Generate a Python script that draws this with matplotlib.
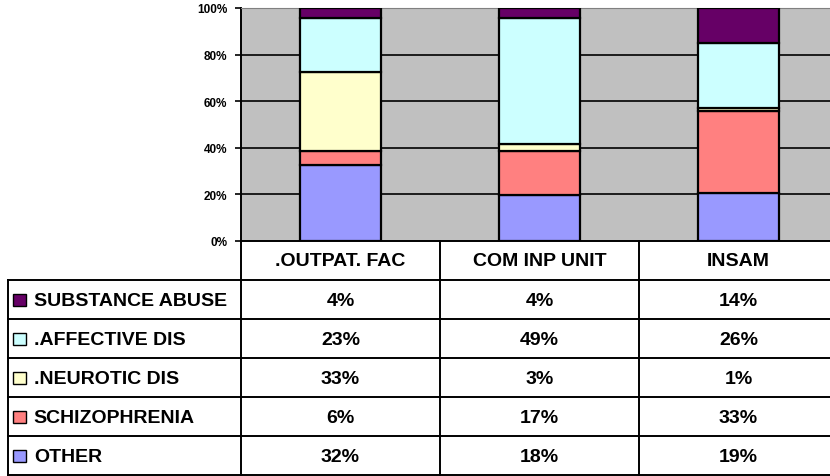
import matplotlib
matplotlib.use("Agg")
import matplotlib.pyplot as plt
from matplotlib.patches import Rectangle
import numpy as np

plt.rcParams['font.family'] = ['Liberation Sans', 'DejaVu Sans']
plt.rcParams['font.weight'] = 'bold'

# data (percent of each facility)
facilities = [".OUTPAT. FAC", "COM INP UNIT", "INSAM"]
diagnoses = ["OTHER", "SCHIZOPHRENIA", ".NEUROTIC DIS", ".AFFECTIVE DIS", "SUBSTANCE ABUSE"]
other = [32, 18, 19]
schizophrenia = [6, 17, 33]
neurotic = [33, 3, 1]
affective = [23, 49, 26]
substance = [4, 4, 14]
colors = ["#9999FF", "#FF8080", "#FFFFCC", "#CCFFFF", "#660066"]

series = np.array([other, schizophrenia, neurotic, affective, substance], dtype=float)
shares = series / series.sum(axis=0) * 100  # 100% stacked

W, H = 830, 477


def box(x0, y0, x1, y1):
    # pixel box (top-left origin) -> figure fraction rect
    return [x0 / W, 1 - y1 / H, (x1 - x0) / W, (y1 - y0) / H]


fig = plt.figure(figsize=(W / 100, H / 100), dpi=100)

# chart area
ax = fig.add_axes(box(241, 9, 838, 242))
ax.set_facecolor("#C0C0C0")
x = np.arange(len(facilities))
bottom = np.zeros(len(facilities))
for vals, col in zip(shares, colors):
    ax.bar(x, vals, bottom=bottom, width=0.41, color=col,
           edgecolor="black", linewidth=1.6, zorder=3)
    bottom += vals

ax.set_xlim(-0.5, 2.5)
ax.set_ylim(0, 100)
ax.set_yticks(range(0, 101, 20))
ax.set_yticklabels([f"{v}%" for v in range(0, 101, 20)], fontsize=8.5, fontweight="bold")
ax.tick_params(axis="y", direction="out", length=4, width=1.2, pad=6)
ax.set_xticks([])
for v in range(20, 100, 20):
    ax.axhline(v, color="black", linewidth=1.2, zorder=1)
ax.spines["top"].set_color("#808080")
ax.spines["top"].set_linewidth(0.8)
ax.spines["right"].set_visible(False)
ax.spines["left"].set_linewidth(1.4)
ax.spines["bottom"].set_linewidth(1.4)

# data table under the chart
label_w = 233 / 199
tx = fig.add_axes(box(8, 242, 838, 476))
tx.set_xlim(-0.5 - label_w, 2.5)
tx.set_ylim(6, 0)
tx.axis("off")
xmin = -0.5 - label_w
lw = 1.4
for r in range(1, 7):
    tx.plot([xmin, 2.5], [r, r], color="black", lw=lw, clip_on=False)
tx.plot([xmin, xmin], [1, 6], color="black", lw=lw, clip_on=False)
for xv in [-0.5, 0.5, 1.5]:
    tx.plot([xv, xv], [0, 6], color="black", lw=lw, clip_on=False)

fs = 14
for i, name in enumerate(facilities):
    tx.text(i, 0.5, name, ha="center", va="center", fontsize=fs, fontweight="bold")

rows = list(zip(diagnoses, series, colors))[::-1]
for r, (name, vals, col) in enumerate(rows, start=1):
    tx.add_patch(Rectangle((xmin + 0.026, r + 0.36), 0.062, 0.31,
                           facecolor=col, edgecolor="black", lw=1.0))
    tx.text(xmin + 0.13, r + 0.52, name, ha="left", va="center",
            fontsize=fs, fontweight="bold")
    for i, v in enumerate(vals):
        tx.text(i, r + 0.52, f"{int(v)}%", ha="center", va="center",
                fontsize=fs, fontweight="bold")

fig.savefig("out.png", dpi=100)
